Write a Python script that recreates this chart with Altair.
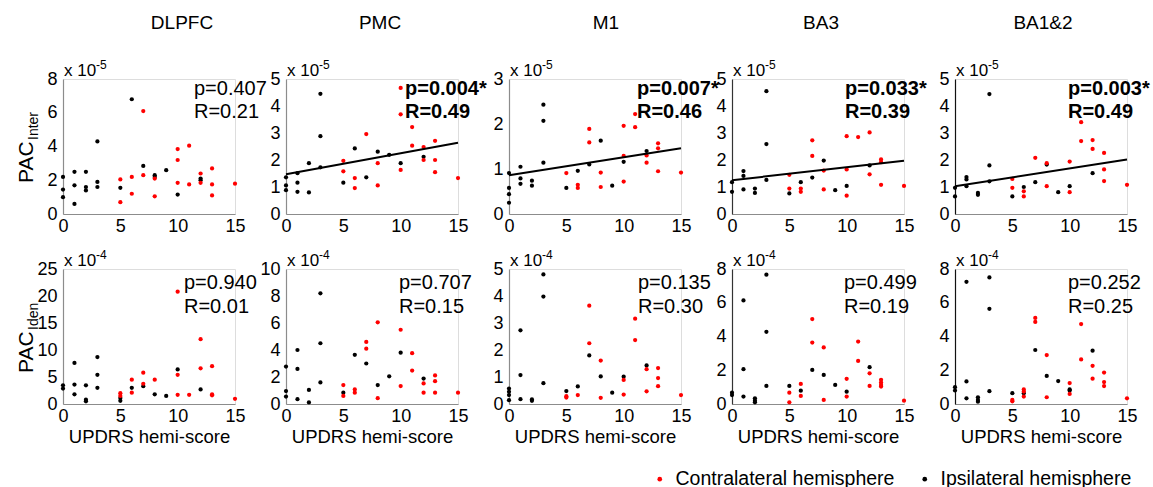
import altair as alt
import pandas as pd

FONT = "Liberation Sans"
HEMIS = ["Contralateral hemisphere", "Ipsilateral hemisphere"]
COLORS = ["#ff0000", "#000000"]

regions = ["DLPFC", "PMC", "M1", "BA3", "BA1&2"]

# PAC_inter (x 1e-5): (UPDRS hemi-score, value)
inter_dlpfc_contra = [(7, 6.1), (10, 3.85), (10, 3.2), (11, 4.05), (5, 2.05), (6, 2.2), (7, 2.3), (8, 2.1), (10, 1.85),
                      (11, 1.75), (12, 2.4), (12, 1.85), (13, 2.7), (13, 1.75), (13, 1.1), (15, 1.8), (6, 1.2), (8, 1.05), (5, 0.7)]
inter_dlpfc_ipsi = [(6, 6.8), (3, 4.3), (1, 2.5), (2, 2.5), (0, 2.2), (1, 1.7), (2, 1.6), (2, 1.4), (3, 1.9), (3, 1.6),
                    (5, 1.55), (0, 1.45), (0, 1.0), (1, 0.6), (7, 2.85), (8, 2.3), (8, 2.2), (9, 2.6), (10, 1.15), (12, 2.1), (12, 2.0)]
inter_pmc_contra = [(7, 2.96), (11, 3.22), (10, 4.67), (10, 3.69), (11, 2.53), (12, 2.48), (12, 2.0), (13, 2.71), (13, 2.0),
                    (13, 1.55), (15, 1.33), (8, 1.88), (8, 1.06), (10, 1.63), (5, 1.97), (5, 1.58), (6, 1.33), (6, 0.96)]
inter_pmc_ipsi = [(3, 4.45), (3, 2.88), (6, 2.43), (12, 2.12), (8, 2.31), (9, 2.19), (10, 1.88), (2, 1.88), (3, 1.73),
                  (1, 1.51), (1, 1.16), (1, 0.82), (0, 1.36), (0, 1.06), (0, 0.88), (2, 0.8), (5, 1.16), (7, 1.36)]
inter_m1_contra = [(7, 1.89), (7, 1.59), (10, 1.96), (11, 2.22), (11, 1.93), (13, 1.57), (13, 1.46), (12, 1.30), (12, 1.14),
                   (13, 0.95), (15, 0.92), (10, 1.29), (8, 0.92), (8, 0.60), (5, 0.91), (6, 0.65), (6, 0.58), (10, 0.72)]
inter_m1_ipsi = [(3, 2.43), (3, 2.07), (3, 1.14), (8, 1.63), (12, 1.40), (10, 1.16), (9, 0.63), (7, 1.1), (6, 0.96), (5, 0.58),
                 (1, 1.05), (1, 0.79), (1, 0.67), (2, 0.74), (2, 0.63), (0, 0.91), (0, 0.58), (0, 0.44), (0, 0.25)]
inter_ba3_contra = [(7, 2.73), (7, 2.15), (10, 2.88), (11, 2.85), (12, 3.02), (13, 2.02), (13, 1.92), (12, 1.47), (10, 1.65),
                    (8, 1.61), (5, 1.45), (13, 1.08), (15, 1.04), (8, 0.91), (10, 0.68), (5, 0.94), (6, 0.94), (6, 0.82)]
inter_ba3_ipsi = [(3, 4.55), (3, 2.59), (8, 1.98), (12, 1.8), (7, 1.35), (6, 1.18), (10, 1.04), (9, 0.88), (5, 0.76),
                  (3, 1.26), (1, 1.59), (1, 1.41), (1, 0.91), (2, 0.94), (2, 0.78), (0, 1.18), (0, 0.82)]
inter_ba12_contra = [(11, 3.40), (11, 2.70), (12, 2.74), (12, 2.41), (13, 2.26), (13, 1.65), (13, 1.22), (7, 2.08), (8, 1.88),
                     (10, 1.94), (5, 1.30), (5, 0.97), (6, 0.84), (6, 0.65), (8, 1.03), (10, 0.81), (15, 1.08)]
inter_ba12_ipsi = [(3, 4.44), (12, 1.51), (8, 1.83), (3, 1.80), (3, 1.21), (1, 1.37), (1, 1.28), (1, 1.03), (0, 0.97),
                   (0, 0.65), (2, 0.78), (2, 0.71), (5, 0.65), (6, 1.0), (7, 1.18), (9, 0.81), (10, 1.03)]

# PAC_Iden (x 1e-4)
iden_dlpfc_contra = [(10, 20.8), (12, 12.0), (12, 6.6), (13, 7.0), (10, 5.4), (10, 1.7), (7, 5.8), (7, 3.75), (6, 4.5),
                     (6, 2.1), (8, 4.5), (5, 2.0), (5, 1.5), (11, 1.7), (13, 1.8), (13, 1.6), (15, 0.95)]
iden_dlpfc_ipsi = [(3, 8.7), (3, 5.4), (3, 3.0), (1, 7.6), (1, 3.6), (1, 1.8), (2, 3.45), (2, 0.8), (2, 0.5), (0, 3.45),
                   (0, 2.86), (10, 6.4), (7, 3.3), (6, 3.0), (8, 1.8), (5, 1.1), (5, 0.6), (9, 1.5), (12, 2.7)]
iden_pmc_contra = [(8, 6.05), (10, 5.5), (7, 4.6), (7, 4.1), (11, 3.76), (11, 2.48), (12, 1.52), (12, 0.84), (13, 2.12),
                   (13, 1.69), (13, 0.84), (15, 0.84), (8, 0.43), (10, 1.33), (5, 1.4), (5, 0.6), (6, 1.08), (6, 0.84)]
iden_pmc_ipsi = [(3, 8.2), (3, 4.5), (3, 1.6), (6, 3.64), (7, 3.0), (10, 3.8), (1, 4.0), (1, 2.6), (1, 0.36), (0, 2.77),
                 (0, 0.96), (0, 0.55), (2, 1.04), (2, 0.12), (9, 2.05), (12, 1.88), (8, 1.4), (5, 0.84)]
iden_m1_contra = [(7, 3.64), (7, 2.25), (11, 3.16), (11, 2.37), (8, 1.61), (8, 0.23), (12, 1.29), (12, 0.47), (13, 1.33),
                  (13, 0.96), (13, 0.66), (10, 0.89), (10, 0.35), (5, 0.29), (5, 0.24), (6, 0.33), (15, 0.33)]
iden_m1_ipsi = [(3, 4.8), (3, 3.98), (1, 2.73), (7, 1.8), (8, 1.02), (12, 1.43), (10, 1.01), (9, 0.42), (1, 1.07), (1, 0.18),
                (3, 0.77), (5, 0.48), (6, 0.65), (0, 0.57), (0, 0.45), (0, 0.33), (0, 0.14), (2, 0.17), (2, 0.12)]
iden_ba3_contra = [(7, 5.03), (7, 3.64), (8, 3.35), (11, 3.7), (11, 2.55), (12, 1.82), (12, 1.07), (13, 1.43), (13, 1.27),
                   (13, 1.13), (13, 1.03), (10, 1.49), (10, 0.44), (6, 1.19), (6, 0.48), (5, 0.67), (5, 0.1), (8, 0.24), (15, 0.2)]
iden_ba3_ipsi = [(3, 7.66), (1, 6.14), (3, 4.28), (7, 2.02), (8, 1.72), (12, 2.18), (1, 2.06), (1, 0.44), (3, 1.07),
                 (9, 1.13), (10, 0.73), (6, 0.79), (5, 1.07), (2, 0.34), (2, 0.2), (2, 0.1), (0, 0.67), (0, 0.53)]
iden_ba12_contra = [(7, 5.1), (7, 4.86), (11, 4.74), (8, 2.9), (11, 2.64), (12, 2.26), (12, 1.5), (13, 1.86), (13, 1.3),
                    (13, 1.06), (10, 1.24), (10, 0.6), (6, 0.86), (6, 0.74), (6, 0.44), (5, 0.24), (5, 0.16), (8, 0.4), (15, 0.34)]
iden_ba12_ipsi = [(1, 7.24), (3, 7.5), (3, 5.64), (7, 3.2), (12, 3.16), (8, 1.66), (9, 1.36), (1, 1.34), (1, 0.34),
                  (10, 0.86), (10, 0.8), (3, 0.76), (6, 0.64), (5, 0.64), (2, 0.4), (2, 0.24), (2, 0.14), (0, 1.0), (0, 0.8)]

inter_contra = [inter_dlpfc_contra, inter_pmc_contra, inter_m1_contra, inter_ba3_contra, inter_ba12_contra]
inter_ipsi = [inter_dlpfc_ipsi, inter_pmc_ipsi, inter_m1_ipsi, inter_ba3_ipsi, inter_ba12_ipsi]
iden_contra = [iden_dlpfc_contra, iden_pmc_contra, iden_m1_contra, iden_ba3_contra, iden_ba12_contra]
iden_ipsi = [iden_dlpfc_ipsi, iden_pmc_ipsi, iden_m1_ipsi, iden_ba3_ipsi, iden_ba12_ipsi]

# statistics per region
inter_p = ["0.407", "0.004", "0.007", "0.033", "0.003"]
inter_r = ["0.21", "0.49", "0.46", "0.39", "0.49"]
iden_p = ["0.940", "0.707", "0.135", "0.499", "0.252"]
iden_r = ["0.01", "0.15", "0.30", "0.19", "0.25"]

# regression line values at score 0 and 15 (significant panels only)
inter_fit_start = [None, 1.47, 0.86, 1.25, 1.03]
inter_fit_end = [None, 2.64, 1.46, 1.97, 2.02]

# y axis ranges and ticks
inter_ymax = [8, 5, 3, 5, 5]
inter_ticks = [[0, 2, 4, 6, 8], [0, 1, 2, 3, 4, 5], [0, 1, 2, 3], [0, 1, 2, 3, 4, 5], [0, 1, 2, 3, 4, 5]]
iden_ymax = [25, 10, 5, 8, 8]
iden_ticks = [[0, 5, 10, 15, 20, 25], [0, 2, 4, 6, 8, 10], [0, 1, 2, 3, 4, 5], [0, 2, 4, 6, 8], [0, 2, 4, 6, 8]]
x_ticks = [0, 5, 10, 15]

W, H = 172, 135
GRAY = "#8c8c8c"
y_domain_colors = [GRAY, GRAY, GRAY, "#333333", "#111111"]
title_x = [119, 94, 97, 89, 88]
stat_x_top = [131, 119, 128, 113, 113]
stat_x_bottom = [121, 113, 129, 112, 113]


def text_layer(txt, x, y, size, weight="normal", align="left", angle=0):
    return alt.Chart(pd.DataFrame({"t": [txt]})).mark_text(
        align=align, baseline="middle", font=FONT, fontSize=size, fontWeight=weight,
        color="#000000", angle=angle,
    ).encode(x=alt.value(x), y=alt.value(y), text="t:N")


def panel(i, row):
    contra = inter_contra[i] if row == 0 else iden_contra[i]
    ipsi = inter_ipsi[i] if row == 0 else iden_ipsi[i]
    ymax = inter_ymax[i] if row == 0 else iden_ymax[i]
    yticks = inter_ticks[i] if row == 0 else iden_ticks[i]
    recs = [{"score": s, "value": v, "hemisphere": HEMIS[1]} for s, v in ipsi]
    recs += [{"score": s, "value": v, "hemisphere": HEMIS[0]} for s, v in contra]
    df = pd.DataFrame(recs)

    show_legend = (row == 1 and i == 4)
    color_kw = dict(scale=alt.Scale(domain=HEMIS, range=COLORS))
    if show_legend:
        color_kw["legend"] = alt.Legend(
            orient="none", legendX=-305, legendY=200, direction="horizontal", title=None,
            labelFont=FONT, labelFontSize=19.5, labelColor="#000000", labelLimit=400,
            symbolType="circle", symbolSize=22, symbolStrokeWidth=0, labelOffset=6,
            columnPadding=20,
        )
    else:
        color_kw["legend"] = None

    xscale = alt.Scale(domain=[0, 15], nice=False, zero=False)
    yscale = alt.Scale(domain=[0, ymax], nice=False, zero=False)
    xaxis = alt.Axis(values=x_ticks, title="UPDRS hemi-score" if row == 1 else "", labelFlush=False,
                     labelFont=FONT, labelFontSize=18, labelColor="#000000", labelPadding=3,
                     labelOverlap=False, ticks=False, grid=False, domainColor=GRAY, domainWidth=1.2,
                     titleFont=FONT, titleFontSize=18.5, titleFontWeight="normal", titleColor="#000000",
                     titlePadding=2)
    yaxis = alt.Axis(values=yticks, title="", labelFont=FONT, labelFontSize=18, labelColor="#000000",
                     labelPadding=6, ticks=False, grid=False, domainColor=y_domain_colors[i],
                     domainWidth=1.2, labelOverlap=False, labelFlush=False, labelBound=False)

    pts = alt.Chart(df).mark_circle(size=18, opacity=1).encode(
        x=alt.X("score:Q", scale=xscale, axis=xaxis),
        y=alt.Y("value:Q", scale=yscale, axis=yaxis),
        color=alt.Color("hemisphere:N", **color_kw),
    )
    layers = [pts]

    if row == 0 and inter_fit_start[i] is not None:
        fit = pd.DataFrame({"score": [0, 15], "value": [inter_fit_start[i], inter_fit_end[i]]})
        layers.append(alt.Chart(fit).mark_line(color="#000000", strokeWidth=2).encode(
            x=alt.X("score:Q", scale=xscale, axis=xaxis),
            y=alt.Y("value:Q", scale=yscale, axis=yaxis)))

    if row == 0:
        p, r = inter_p[i], inter_r[i]
        sx, py, ry = stat_x_top[i], 10, 33
        exp = "-5"
    else:
        p, r = iden_p[i], iden_r[i]
        sx, py, ry = stat_x_bottom[i], 14, 38
        exp = "-4"
    sig = float(p) < 0.05
    weight = "bold" if sig else "normal"
    layers.append(text_layer("p=" + p + ("*" if sig else ""), sx, py, 20, weight))
    layers.append(text_layer("R=" + r, sx, ry, 20, weight))

    # axis multiplier
    layers.append(text_layer("x 10", 1, -8, 17))
    layers.append(text_layer(exp, 33, -14, 12))

    if row == 0:
        layers.append(text_layer(regions[i], title_x[i], -56, 19, align="center"))

    if i == 0:
        sub = "Inter" if row == 0 else "Iden"
        layers.append(text_layer("PAC", -36, 104, 21, angle=270))
        layers.append(text_layer(sub, -29, 104 - 43, 14, angle=270))

    return alt.layer(*layers).properties(width=W, height=H)


panels = [panel(i, 0) for i in range(5)] + [panel(i, 1) for i in range(5)]

chart = alt.concat(
    *panels, columns=5, bounds="flush", spacing=alt.RowColnumber(row=55, column=51)
).resolve_scale(color="independent").resolve_legend(color="independent").properties(
    padding={"left": 15, "top": 13, "right": 2, "bottom": 2}
).configure_view(stroke=None).configure_axis(labelOverlap=False).configure(background="white")

chart.save("out.html", embed_options={"renderer": "svg", "actions": False})
